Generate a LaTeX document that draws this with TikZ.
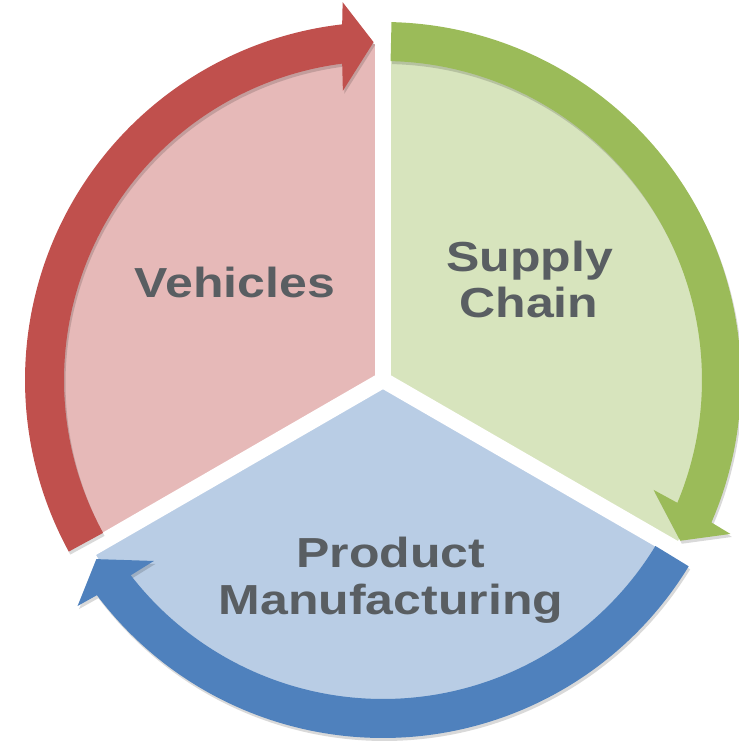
\documentclass[tikz,border=0pt]{standalone}
\usepackage{fontspec}
\newfontfamily\labfont{Liberation Sans}[FakeStretch=1.19]
\usetikzlibrary{shadows}
\definecolor{pinkfill}{HTML}{E6B9B8}
\definecolor{greenfill}{HTML}{D7E4BD}
\definecolor{bluefill}{HTML}{B9CDE5}
\definecolor{redarrow}{HTML}{C0504D}
\definecolor{greenarrow}{HTML}{9BBB59}
\definecolor{bluearrow}{HTML}{4F81BD}
\definecolor{txtgray}{HTML}{595E62}
\tikzset{
  lbl/.style={font=\labfont\bfseries\fontsize{42}{47}\selectfont, text=txtgray, anchor=base, inner sep=0pt},
  gapline/.style={white, line width=16pt, line cap=round},
  arrowshadow/.style={drop shadow={opacity=0.15, shadow xshift=1.5pt, shadow yshift=-3pt, fill=black}},
}
% #1 tail angle, #2 tip angle, #3 colour
\newcommand\cyclearrow[3]{%
  \fill[#3, arrowshadow] (#1:358) arc[start angle=#1, end angle={#2+4.95}, radius=358]
    -- ({#2+4.5}:380) -- (#2:338) -- ({#2+6.3}:292) -- ({#2+5.75}:319)
    arc[start angle={#2+5.75}, end angle=#1, radius=319] -- cycle;}
\begin{document}
\begin{tikzpicture}[x=1pt, y=1pt]
  \useasboundingbox (-383,-363) rectangle (355,380);
  % sectors
  \fill[pinkfill]  (0,0) -- (90:336)  arc[start angle=90,  end angle=210, radius=336] -- cycle;
  \fill[greenfill] (0,0) -- (-30:336) arc[start angle=-30, end angle=90,  radius=336] -- cycle;
  \fill[bluefill]  (0,0) -- (210:336) arc[start angle=210, end angle=330, radius=336] -- cycle;
  % gaps
  \coordinate (c) at (0,0);
  \coordinate (g1) at (90:400);
  \coordinate (g2) at (210:400);
  \coordinate (g3) at (330:400);
  \draw[gapline] (c) -- (g1);
  \draw[gapline] (c) -- (g2);
  \draw[gapline] (c) -- (g3);
  % arrows
  \cyclearrow{208.64}{91.6}{redarrow}
  \cyclearrow{88.64}{-28.4}{greenarrow}
  \cyclearrow{-31.36}{-148}{bluearrow}
  % labels
  \node[lbl] (veh)  at (-148,82)   {Vehicles};
  \node[lbl] (sup1) at (146.5,108.5) {Supply};
  \node[lbl] (sup2) at (146,62.5)  {Chain};
  \node[lbl] (pm1)  at (8,-187)    {Product};
  \node[lbl] (pm2)  at (8,-234)    {Manufacturing};
\end{tikzpicture}
\end{document}
